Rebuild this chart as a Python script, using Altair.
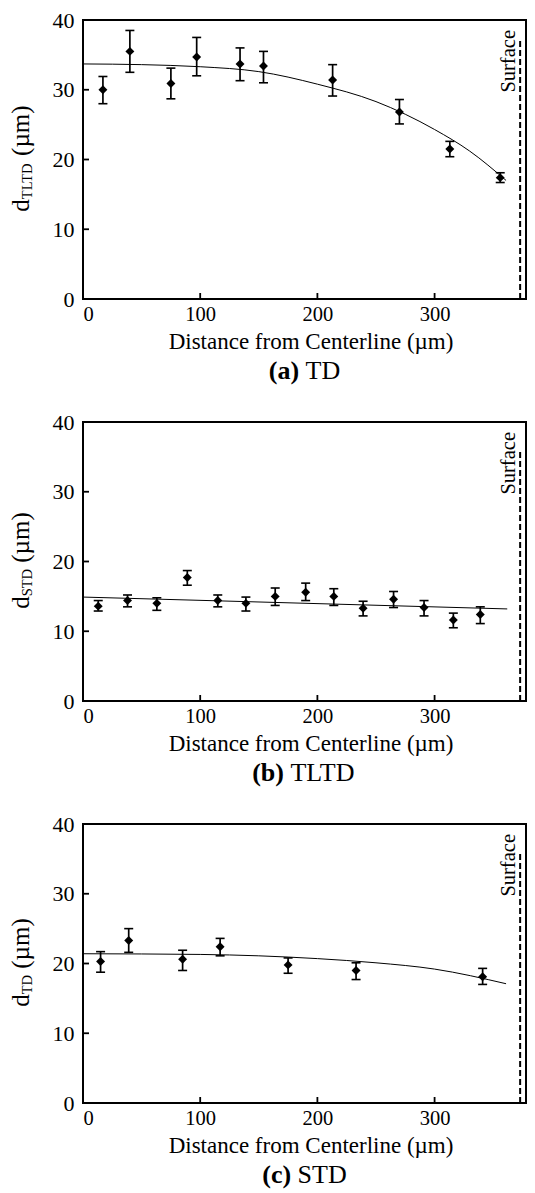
import altair as alt
import pandas as pd

FONT = "Liberation Serif"
W, H = 443, 279

# ---------------- data ----------------
# (a) TD
a_x = [17, 40, 75, 97, 134, 154, 213, 270, 313, 356]
a_y = [30.0, 35.5, 30.9, 34.7, 33.7, 33.4, 31.4, 26.8, 21.5, 17.4]
a_lo = [28.0, 32.5, 28.7, 32.0, 31.3, 31.0, 29.1, 25.1, 20.4, 16.7]
a_hi = [31.9, 38.5, 33.1, 37.5, 36.0, 35.5, 33.6, 28.6, 22.6, 18.1]
a_fit_x = [0, 50, 100, 150, 200, 250, 300, 330, 361]
a_fit_y = [33.7, 33.6, 33.3, 32.6, 30.8, 28.3, 24.3, 21.2, 17.0]

# (b) TLTD
b_x = [13, 38, 63, 89, 115, 139, 164, 190, 214, 239, 265, 291, 316, 339]
b_y = [13.6, 14.4, 14.0, 17.7, 14.4, 14.0, 15.0, 15.6, 15.0, 13.3, 14.6, 13.4, 11.6, 12.4]
b_lo = [12.9, 13.5, 13.0, 16.6, 13.5, 12.9, 13.7, 14.4, 13.7, 12.2, 13.4, 12.2, 10.5, 11.1]
b_hi = [14.4, 15.2, 14.8, 18.7, 15.2, 14.9, 16.2, 16.9, 16.1, 14.3, 15.7, 14.4, 12.6, 13.5]
b_fit_x = [0, 362]
b_fit_y = [14.9, 13.2]

# (c) STD
c_x = [15, 39, 85, 117, 175, 233, 341]
c_y = [20.3, 23.3, 20.6, 22.4, 19.8, 19.0, 18.1]
c_lo = [18.75, 21.6, 19.0, 21.1, 18.6, 17.7, 17.0]
c_hi = [21.7, 25.0, 21.9, 23.6, 20.8, 20.1, 19.3]
c_fit_x = [0, 100, 150, 200, 250, 300, 361]
c_fit_y = [21.4, 21.3, 21.1, 20.7, 20.1, 19.2, 17.1]

surface_x = 373
surface_top = [37, 36, 36]

x_ticks = [0, 100, 200, 300]
y_ticks = [0, 10, 20, 30, 40]
x_title = "Distance from Centerline (µm)"
y_subs = ["TLTD", "STD", "TD"]
y_unit = "(µm)"
cap_bold = ["(a)", "(b)", "(c)"]
cap_rest = ["TD", "TLTD", "STD"]

# ---------------- layout helpers (approximate Liberation Serif advance widths) ----------------
ADV = {"T": 0.611, "L": 0.611, "D": 0.722, "S": 0.556, " ": 0.25, "(": 0.333,
       ")": 0.333, "a": 0.5, "b": 0.556, "c": 0.444, "µ": 0.5, "m": 0.778, "d": 0.5}


def tw(s, size):
    return sum(ADV.get(ch, 0.5) for ch in s) * size


xscale = alt.Scale(domain=[0, 378], nice=False, zero=False)
yscale = alt.Scale(domain=[0, 40], nice=False, zero=False)

xaxis = alt.Axis(values=x_ticks, title=x_title, labelFontSize=20.5, labelPadding=5,
                 labelFlush=True, titleFontSize=23, titlePadding=6, titleX=W / 2 + 6,
                 titleFontWeight="normal", format="d", labelFont=FONT, titleFont=FONT,
                 labelColor="black", titleColor="black", domain=False, ticks=False,
                 grid=False)
yaxis = alt.Axis(values=y_ticks, title=None, labelFontSize=22, labelPadding=9, format="d",
                 labelFont=FONT, labelColor="black", domain=False, ticks=False, grid=False)


def one(src):
    return pd.DataFrame(src)


def panel(i, xs, ys, lo, hi, fx, fy):
    pts = pd.DataFrame({"x": xs, "y": ys, "lo": lo, "hi": hi})
    fit = pd.DataFrame({"x": fx, "y": fy})
    X = alt.X("x:Q", scale=xscale, axis=xaxis)
    Y = alt.Y("y:Q", scale=yscale, axis=yaxis)

    fit_line = alt.Chart(fit).mark_line(color="black", strokeWidth=1,
                                        interpolate="monotone").encode(x=X, y=Y)
    bars = alt.Chart(pts).mark_rule(color="black", strokeWidth=1.7).encode(
        x=X, y=alt.Y("lo:Q", scale=yscale, axis=yaxis), y2="hi:Q")
    cap_lo = alt.Chart(pts).mark_tick(color="black", orient="horizontal", size=9,
                                      thickness=1.6, opacity=1).encode(
        x=X, y=alt.Y("lo:Q", scale=yscale, axis=yaxis))
    cap_hi = alt.Chart(pts).mark_tick(color="black", orient="horizontal", size=9,
                                      thickness=1.6, opacity=1).encode(
        x=X, y=alt.Y("hi:Q", scale=yscale, axis=yaxis))
    dots = alt.Chart(pts).mark_point(shape="diamond", filled=True, size=80,
                                     color="black", opacity=1).encode(x=X, y=Y)

    surf = one({"x": [surface_x], "y0": [0], "top": [surface_top[i]]})
    surf_line = alt.Chart(surf).mark_rule(color="black", strokeWidth=2,
                                          strokeDash=[6, 3]).encode(
        x=X, y=alt.Y("y0:Q", scale=yscale, axis=yaxis), y2="top:Q")
    surf_text = alt.Chart(surf).mark_text(text="Surface", angle=270, align="right",
                                          baseline="alphabetic", dy=-5, font=FONT,
                                          fontSize=20.5, color="black").encode(
        x=X, y=alt.value(10))

    # inward tick marks
    xt = one({"x": x_ticks[1:]})
    x_in = alt.Chart(xt).mark_rule(color="black", strokeWidth=1.8).encode(
        x=X, y=alt.value(H), y2=alt.value(H - 6))
    yt = one({"y": y_ticks[1:-1]})
    y_in = alt.Chart(yt).mark_rule(color="black", strokeWidth=1.8).encode(
        y=Y, x=alt.value(0), x2=alt.value(6))

    # composite y title: d_sub (µm)
    main_fs, sub_fs = 25, 14.5
    sub = y_subs[i]
    wd = tw("d", main_fs)
    ws = tw(sub, sub_fs)
    wsp = tw(" ", main_fs)
    L = wd + ws + wsp + tw(y_unit, main_fs)
    start = H / 2 + L / 2
    dummy = one({"k": [0]})
    t_d = alt.Chart(dummy).mark_text(text="d", angle=270, align="left",
                                     baseline="alphabetic", font=FONT,
                                     fontSize=main_fs, color="black").encode(
        x=alt.value(-54), y=alt.value(start))
    t_sub = alt.Chart(dummy).mark_text(text=sub, angle=270, align="left",
                                       baseline="alphabetic", font=FONT,
                                       fontSize=sub_fs, color="black").encode(
        x=alt.value(-51), y=alt.value(start - wd))
    t_unit = alt.Chart(dummy).mark_text(text=y_unit, angle=270, align="left",
                                        baseline="alphabetic", font=FONT,
                                        fontSize=main_fs, color="black").encode(
        x=alt.value(-54), y=alt.value(start - wd - ws - wsp))

    # caption: bold "(a)" + regular "TD"
    cap_fs = 26
    wb = tw(cap_bold[i], cap_fs)
    wr = tw(cap_rest[i], cap_fs)
    gap = tw(" ", cap_fs)
    left = W / 2 - (wb + gap + wr) / 2
    c1 = alt.Chart(dummy).mark_text(text=cap_bold[i], align="left",
                                    baseline="alphabetic", font=FONT, fontWeight="bold",
                                    fontSize=cap_fs, color="black").encode(
        x=alt.value(left), y=alt.value(H + 80))
    c2 = alt.Chart(dummy).mark_text(text=cap_rest[i], align="left",
                                    baseline="alphabetic", font=FONT,
                                    fontSize=cap_fs, color="black").encode(
        x=alt.value(left + wb + gap), y=alt.value(H + 80))

    return alt.layer(fit_line, bars, cap_lo, cap_hi, dots, surf_line, surf_text,
                     x_in, y_in, t_d, t_sub, t_unit, c1, c2).properties(width=W, height=H)


pa = panel(0, a_x, a_y, a_lo, a_hi, a_fit_x, a_fit_y)
pb = panel(1, b_x, b_y, b_lo, b_hi, b_fit_x, b_fit_y)
pc = panel(2, c_x, c_y, c_lo, c_hi, c_fit_x, c_fit_y)

chart = alt.vconcat(pa, pb, pc, spacing=25).properties(
    padding=0, background="white"
).configure_view(stroke="black", strokeWidth=2)

chart.save("out.html", embed_options={"renderer": "svg", "actions": False})
